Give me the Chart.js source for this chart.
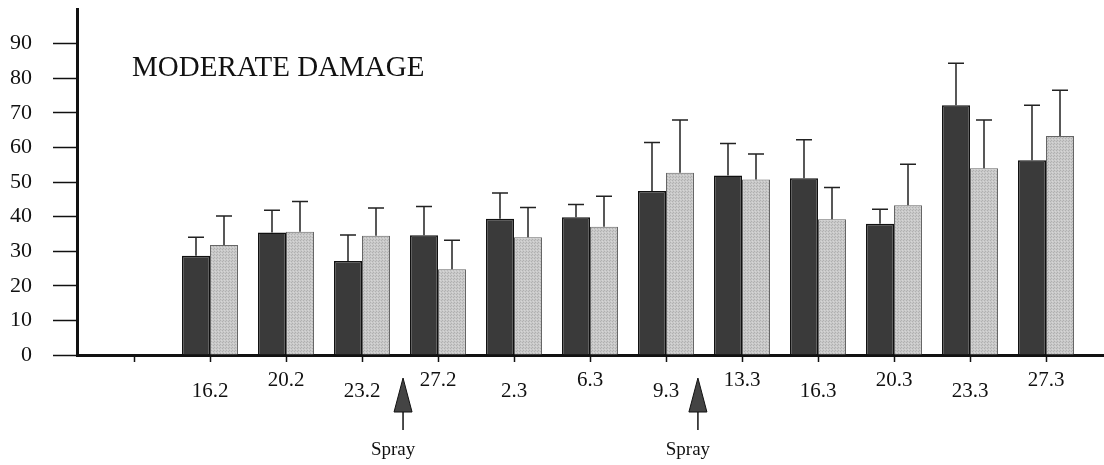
<!DOCTYPE html>
<html>
<head>
<meta charset="utf-8">
<script src="https://cdn.jsdelivr.net/npm/chart.js@4.4.0/dist/chart.umd.min.js"></script>
<style>
  body { margin: 0; background: #fff; }
</style>
</head>
<body>
<canvas id="damage" width="1104" height="465"></canvas>
<script>
// sampling dates (day.month), slot 0 on the axis is left empty
const dates = ['16.2', '20.2', '23.2', '27.2', '2.3', '6.3', '9.3', '13.3', '16.3', '20.3', '23.3', '27.3'];

// dark bars: mean + upper error
const darkVals = [28.7, 35.4, 27.2, 34.6, 39.4, 39.8, 47.4, 51.9, 51.1, 37.9, 72.2, 56.3];
const darkErr = [5.3, 6.4, 7.5, 8.3, 7.4, 3.7, 14.0, 9.2, 11.1, 4.2, 12.1, 15.9];

// light (dotted) bars: mean + upper error
const lightVals = [31.8, 35.6, 34.5, 24.8, 34.0, 37.1, 52.7, 50.7, 39.2, 43.3, 54.0, 63.3];
const lightErr = [8.4, 8.8, 8.0, 8.4, 8.6, 8.8, 15.2, 7.4, 9.2, 11.8, 13.9, 13.2];

// where the two spray arrows sit, in axis slots
const sprayAt = [3.54, 7.42];

const serif = "'Liberation Serif', 'Times New Roman', serif";

const canvas = document.getElementById('damage');
const ctx = canvas.getContext('2d');

// small dotted grey texture for the light bars
function dotPattern() {
    const c = document.createElement('canvas');
    c.width = 3;
    c.height = 3;
    const g = c.getContext('2d');
    g.fillStyle = '#c9c9c9';
    g.fillRect(0, 0, 3, 3);
    g.fillStyle = '#b0b0b0';
    g.fillRect(0, 0, 1, 1);
    g.fillRect(1, 2, 1, 1);
    g.fillStyle = '#d6d6d6';
    g.fillRect(2, 1, 1, 1);
    return ctx.createPattern(c, 'repeat');
}

// error bars: only the upper whisker with a cap
const errorBars = {
    id: 'errorBars',
    afterDatasetsDraw(chart) {
        const c = chart.ctx;
        const y = chart.scales.y;
        const errs = [darkErr, lightErr];
        c.save();
        c.strokeStyle = '#222';
        c.lineWidth = 1.5;
        chart.data.datasets.forEach((ds, d) => {
            chart.getDatasetMeta(d).data.forEach((bar, i) => {
                const top = y.getPixelForValue(ds.data[i].y + errs[d][i]);
                c.beginPath();
                c.moveTo(bar.x, bar.y);
                c.lineTo(bar.x, top);
                c.moveTo(bar.x - 8, top);
                c.lineTo(bar.x + 8, top);
                c.stroke();
            });
        });
        c.restore();
    }
};

// title inside the plot and the spray arrows under the axis
const notes = {
    id: 'notes',
    afterDraw(chart) {
        const c = chart.ctx;
        const x = chart.scales.x;
        const area = chart.chartArea;
        c.save();
        c.fillStyle = '#111';
        c.font = '29px ' + serif;
        c.textBaseline = 'alphabetic';
        c.fillText('MODERATE DAMAGE', area.left + 55, 76);

        sprayAt.forEach(v => {
            const px = x.getPixelForValue(v);
            c.beginPath();
            c.moveTo(px, 378);
            c.lineTo(px + 9, 412);
            c.lineTo(px - 9, 412);
            c.closePath();
            c.fillStyle = '#444';
            c.fill();
            c.strokeStyle = '#111';
            c.lineWidth = 1;
            c.stroke();
            c.beginPath();
            c.moveTo(px, 412);
            c.lineTo(px, 430);
            c.lineWidth = 1.5;
            c.stroke();
            c.fillStyle = '#111';
            c.font = '19px ' + serif;
            c.textAlign = 'center';
            c.textBaseline = 'middle';
            c.fillText('Spray', px - 10, 450);
        });
        c.restore();
    }
};

new Chart(ctx, {
    type: 'bar',
    data: {
        datasets: [{
            data: darkVals.map((v, i) => ({ x: i + 1, y: v })),
            backgroundColor: '#3a3a3a',
            borderColor: '#111',
            borderWidth: 1.5
        }, {
            data: lightVals.map((v, i) => ({ x: i + 1, y: v })),
            backgroundColor: dotPattern(),
            borderColor: '#666',
            borderWidth: 1
        }]
    },
    options: {
        responsive: false,
        animation: false,
        layout: { padding: { top: 9, right: 1, left: 0, bottom: 0 } },
        datasets: {
            bar: { categoryPercentage: 0.737, barPercentage: 1, borderSkipped: 'bottom' }
        },
        plugins: {
            legend: { display: false },
            tooltip: { enabled: false }
        },
        scales: {
            x: {
                type: 'linear',
                min: -0.75,
                max: 12.75,
                offset: false,
                afterFit(scale) { scale.height = 110; },
                border: { color: '#111', width: 3 },
                grid: { offset: false, drawOnChartArea: false, tickLength: 7, color: '#111', tickWidth: 1.5 },
                ticks: {
                    stepSize: 1,
                    includeBounds: false,
                    autoSkip: false,
                    maxRotation: 0,
                    padding: 13,
                    color: '#111',
                    font: { family: serif, size: 21, lineHeight: '11px' },
                    // labels alternate between a low and a high row
                    callback(value) {
                        if (value < 1) return '';
                        const lab = dates[value - 1];
                        return value % 2 === 1 ? ['', lab] : lab;
                    }
                }
            },
            y: {
                min: 0,
                max: 100,
                afterFit(scale) {
                    scale.width = 77;
                    scale.paddingTop = 0;
                    scale.paddingBottom = 0;
                },
                border: { color: '#111', width: 3 },
                grid: {
                    drawOnChartArea: false,
                    tickLength: 24,
                    tickWidth: 1.5,
                    color: c => c.tick && c.tick.value === 100 ? 'rgba(0,0,0,0)' : '#111'
                },
                ticks: {
                    stepSize: 10,
                    padding: 21,
                    color: '#111',
                    font: { family: serif, size: 22 },
                    callback: v => v === 100 ? '' : v
                }
            }
        }
    },
    plugins: [errorBars, notes]
});
</script>
</body>
</html>
